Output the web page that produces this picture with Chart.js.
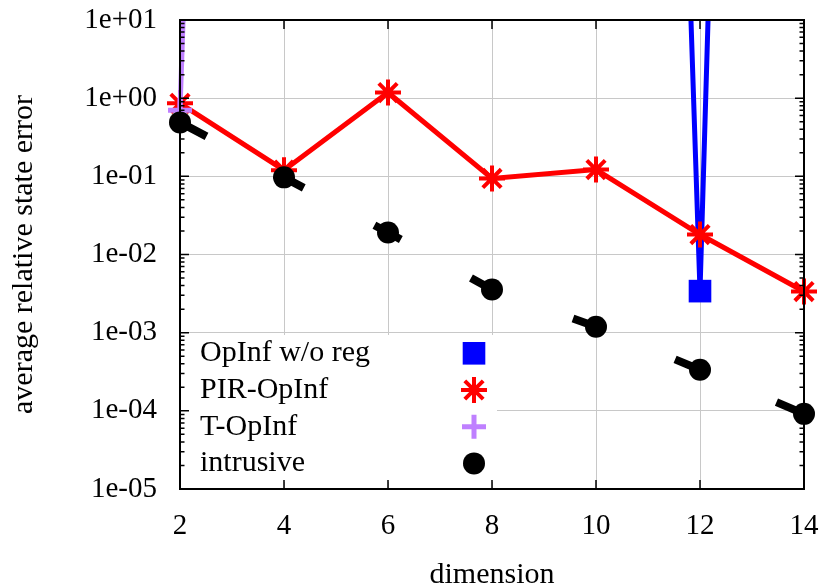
<!DOCTYPE html>
<html><head><meta charset="utf-8">
<script src="https://cdn.jsdelivr.net/npm/chart.js@4.4.0/dist/chart.umd.min.js"></script>
<style>html,body{margin:0;padding:0;background:#fff;} #wrap{width:821px;height:588px;}</style>
</head><body><div id="wrap"><canvas id="c" width="821" height="588"></canvas></div>
<script>
const dimensions = [2, 4, 6, 8, 10, 12, 14];
const opinfNoReg = [null, null, null, null, 3e37, 3.4e-3, 3e42];
const pirOpinf = [0.86, 0.12, 1.18, 0.094, 0.122, 0.018, 0.00336];
const tOpinf = [0.7, 1e39, null, null, null, null, null];
const intrusive = [0.49, 0.097, 0.0191, 0.00356, 0.00119, 3.36e-4, 9.15e-5];
const xTicks = [2, 4, 6, 8, 10, 12, 14];
const xTickLabels = ['2', '4', '6', '8', '10', '12', '14'];
const yTicks = [1e-5, 1e-4, 1e-3, 1e-2, 1e-1, 1, 10];
const yTickLabels = ['1e-05', '1e-04', '1e-03', '1e-02', '1e-01', '1e+00', '1e+01'];
const seriesNames = ['OpInf w/o reg', 'PIR-OpInf', 'T-OpInf', 'intrusive'];
const xTitle = 'dimension';
const yTitle = 'average relative state error';

const FONT = "'Liberation Serif', 'Times New Roman', serif";
const pts = arr => dimensions.map((x, i) => ({x: x, y: arr[i]}));
const CLIP = {left: 20, right: 20, top: 0, bottom: 0};

const styles = [
  {color: '#0000ff', pointStyle: 'rect', radius: 16, pbw: 0, bw: 5},
  {color: '#ff0000', pointStyle: 'star', radius: 13, pbw: 4, bw: 5},
  {color: '#bf80ff', pointStyle: 'cross', radius: 12, pbw: 5, bw: 5},
  {color: '#000000', pointStyle: 'circle', radius: 11, pbw: 0, bw: 8}
];
const seriesData = [opinfNoReg, pirOpinf, tOpinf, intrusive];
const orders = [3, 2, 1, 0];

const datasets = seriesData.map((arr, i) => ({
  label: seriesNames[i],
  data: pts(arr),
  borderColor: styles[i].color,
  backgroundColor: styles[i].color,
  pointBackgroundColor: styles[i].color,
  pointBorderColor: styles[i].color,
  borderWidth: styles[i].bw,
  pointStyle: styles[i].pointStyle,
  pointRadius: styles[i].radius,
  pointBorderWidth: styles[i].pbw,
  pointHoverRadius: styles[i].radius,
  borderDash: i === 3 ? [30, 80] : [],
  borderCapStyle: 'butt',
  spanGaps: false,
  order: orders[i],
  clip: CLIP
}));

const decor = {
  id: 'decor',
  beforeDatasetsDraw(chart) {
    const ctx = chart.ctx;
    ctx.save();
    ctx.fillStyle = '#ffffff';
    ctx.fillRect(186, 335, 311, 147);
    ctx.font = '30px ' + FONT;
    ctx.textBaseline = 'alphabetic';
    ctx.textAlign = 'left';
    for (let i = 0; i < seriesNames.length; i++) {
      const y = 353.3 + i * 36.7;
      ctx.fillStyle = '#000';
      ctx.fillText(seriesNames[i], 200, y + 8);
      const s = styles[i];
      ctx.fillStyle = s.color;
      ctx.strokeStyle = s.color;
      ctx.lineWidth = s.pbw;
      Chart.helpers.drawPoint(ctx, {pointStyle: s.pointStyle, radius: s.radius, borderWidth: s.pbw, rotation: 0}, 474, y);
    }
    ctx.restore();
  },
  afterDraw(chart) {
    const ctx = chart.ctx;
    const a = chart.chartArea;
    const ys = chart.scales.y, xs = chart.scales.x;
    ctx.save();
    ctx.strokeStyle = '#000';
    ctx.lineWidth = 1.5;
    ctx.beginPath();
    for (let d = 0; d < yTicks.length; d++) {
      const base = yTicks[d];
      const y = ys.getPixelForValue(base);
      ctx.moveTo(a.left, y); ctx.lineTo(a.left + 9, y);
      ctx.moveTo(a.right, y); ctx.lineTo(a.right - 9, y);
      if (d < yTicks.length - 1) {
        for (let m = 2; m <= 9; m++) {
          const yy = ys.getPixelForValue(base * m);
          ctx.moveTo(a.left, yy); ctx.lineTo(a.left + 4.5, yy);
          ctx.moveTo(a.right, yy); ctx.lineTo(a.right - 4.5, yy);
        }
      }
    }
    for (const v of xTicks) {
      const x = xs.getPixelForValue(v);
      ctx.moveTo(x, a.bottom); ctx.lineTo(x, a.bottom - 9);
      ctx.moveTo(x, a.top); ctx.lineTo(x, a.top + 9);
    }
    ctx.stroke();
    ctx.lineWidth = 2;
    ctx.strokeRect(a.left, a.top, a.right - a.left, a.bottom - a.top);
    ctx.restore();
  }
};

new Chart(document.getElementById('c'), {
  type: 'line',
  data: {datasets: datasets},
  options: {
    responsive: false,
    animation: false,
    devicePixelRatio: 1,
    layout: {padding: {left: 0, right: 16, top: 20, bottom: 0}},
    plugins: {legend: {display: false}, tooltip: {enabled: false}},
    scales: {
      x: {
        type: 'linear', min: 2, max: 14,
        afterBuildTicks: s => { s.ticks = xTicks.map(v => ({value: v})); },
        afterFit: s => { s.height = 99; s.paddingLeft = 0; s.paddingRight = 0; s.paddingTop = 0; s.paddingBottom = 0; },
        grid: {color: '#c8c8c8', lineWidth: 1, drawTicks: false},
        border: {display: false},
        ticks: {
          autoSkip: false, maxRotation: 0, padding: 20, color: '#000',
          font: {family: FONT, size: 29},
          callback: v => xTickLabels[xTicks.indexOf(v)]
        },
        title: {display: true, text: xTitle, color: '#000', font: {family: FONT, size: 30, lineHeight: 0.75}, padding: {top: 0, bottom: 1.5}}
      },
      y: {
        type: 'logarithmic', min: 1e-5, max: 10,
        afterBuildTicks: s => { s.ticks = yTicks.map(v => ({value: v})); },
        afterFit: s => { s.width = 180; s.paddingLeft = 0; s.paddingRight = 0; s.paddingTop = 0; s.paddingBottom = 0; },
        grid: {color: '#c8c8c8', lineWidth: 1, drawTicks: false},
        border: {display: false},
        ticks: {
          autoSkip: false, padding: 23, color: '#000',
          font: {family: FONT, size: 29},
          callback: v => yTickLabels[yTicks.indexOf(v)]
        },
        title: {display: true, text: yTitle, color: '#000', font: {family: FONT, size: 30, lineHeight: 1}, padding: {top: 9, bottom: 0}}
      }
    }
  },
  plugins: [decor]
});
</script>
</body></html>
